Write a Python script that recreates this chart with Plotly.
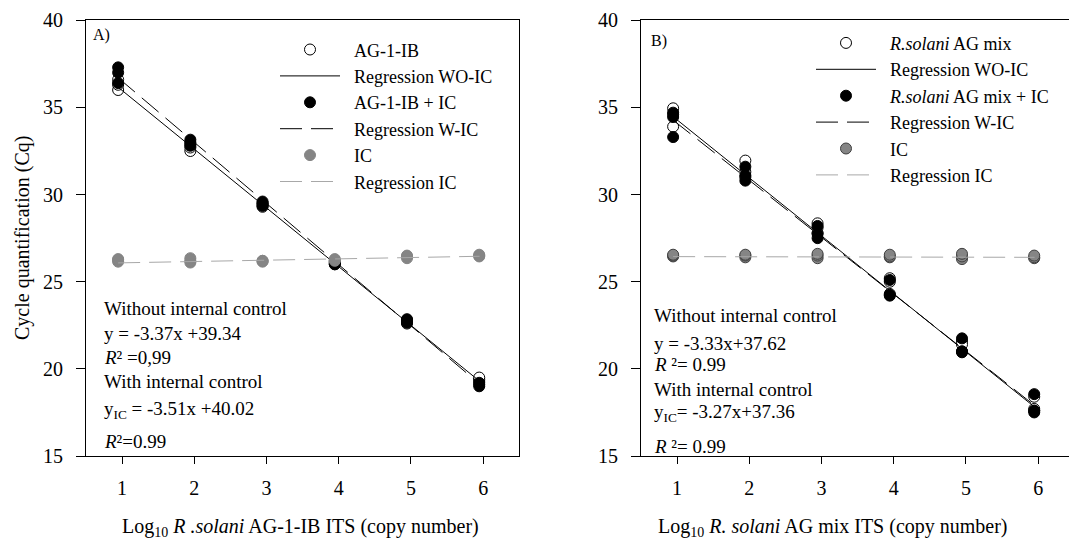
import numpy as np
import plotly.graph_objects as go

# ---------------- data ----------------
x_levels = [0.945, 1.945, 2.945, 3.945, 4.945, 5.945]
tick_vals = [1, 2, 3, 4, 5, 6]
y_ticks = [15, 20, 25, 30, 35, 40]

# Panel A (AG-1-IB)
A_open = [[36.0, 36.3, 36.6], [32.5, 32.7, 32.9], [29.3, 29.4, 29.5],
          [26.0, 26.1, 26.2], [22.6, 22.7, 22.8], [19.3, 19.4, 19.5]]
A_filled = [[36.4, 37.0, 37.3], [32.8, 33.0, 33.15], [29.35, 29.5, 29.6],
            [26.0, 26.05, 26.15], [22.65, 22.75, 22.85], [19.0, 19.1, 19.2]]
A_ic = [[26.15, 26.25, 26.3], [26.1, 26.2, 26.35], [26.15, 26.2, 26.2],
        [26.2, 26.25, 26.3], [26.35, 26.45, 26.5], [26.45, 26.5, 26.55]]
reg_x = [0.945, 5.95]
A_reg_wo = [36.16, 19.29]
A_reg_w = [36.70, 19.13]
A_reg_ic = [26.08, 26.46]

# Panel B (R. solani AG mix)
B_open = [[34.95, 34.6, 33.9], [31.95, 31.3, 31.0], [28.35, 28.1, 27.8],
          [25.2, 25.0, 24.3], [21.6, 21.4, 21.0], [18.4, 17.7, 17.6]]
B_filled = [[34.7, 34.45, 33.3], [31.6, 31.1, 30.8], [28.2, 27.75, 27.5],
            [25.1, 24.2, 24.25], [21.75, 20.95, 21.0], [18.55, 17.5, 17.6]]
B_ic = [[26.45, 26.5, 26.55], [26.4, 26.5, 26.55], [26.35, 26.5, 26.6],
        [26.4, 26.45, 26.55], [26.3, 26.45, 26.6], [26.35, 26.4, 26.5]]
B_reg_wo = [34.47, 17.81]
B_reg_w = [34.27, 17.90]
B_reg_ic = [26.44, 26.40]

A_names = ["AG-1-IB", "Regression WO-IC", "AG-1-IB + IC", "Regression W-IC", "IC", "Regression IC"]
B_names = ["<i>R.solani</i> AG mix", "Regression WO-IC", "<i>R.solani</i> AG mix + IC",
           "Regression W-IC", "IC", "Regression IC"]

# ---------------- figure ----------------
W, H = 1069, 540
FONT = "Liberation Serif, Times New Roman, serif"
PAD = "&nbsp;&nbsp;"


def flat(vals):
    xs = np.repeat(x_levels, [len(v) for v in vals])
    ys = np.concatenate([np.asarray(v, float) for v in vals])
    return xs, ys


fig = go.Figure()


def add_panel(xa, ya, leg, names, open_v, filled_v, ic_v, r_wo, r_w, r_ic, ic_line_col):
    nm = [PAD + n for n in names]
    x, y = flat(open_v)
    fig.add_trace(go.Scatter(x=x, y=y, mode="markers", name=nm[0], xaxis=xa, yaxis=ya, legend=leg,
                             marker=dict(symbol="circle", size=11, color="white",
                                         line=dict(color="black", width=1))))
    fig.add_trace(go.Scatter(x=reg_x, y=r_wo, mode="lines", name=nm[1], xaxis=xa, yaxis=ya, legend=leg,
                             line=dict(color="black", width=1)))
    x, y = flat(filled_v)
    fig.add_trace(go.Scatter(x=x, y=y, mode="markers", name=nm[2], xaxis=xa, yaxis=ya, legend=leg,
                             marker=dict(symbol="circle", size=11, color="black",
                                         line=dict(color="black", width=1))))
    fig.add_trace(go.Scatter(x=reg_x, y=r_w, mode="lines", name=nm[3], xaxis=xa, yaxis=ya, legend=leg,
                             line=dict(color="black", width=1, dash="22px,9px")))
    x, y = flat(ic_v)
    fig.add_trace(go.Scatter(x=x, y=y, mode="markers", name=nm[4], xaxis=xa, yaxis=ya, legend=leg,
                             marker=dict(symbol="circle", size=11, color="#858585",
                                         line=dict(color=ic_line_col, width=1))))
    fig.add_trace(go.Scatter(x=reg_x, y=r_ic, mode="lines", name=nm[5], xaxis=xa, yaxis=ya, legend=leg,
                             line=dict(color="#a8a8a8", width=1, dash="22px,9px")))


add_panel("x", "y", "legend", A_names, A_open, A_filled, A_ic, A_reg_wo, A_reg_w, A_reg_ic, "#858585")
add_panel("x2", "y2", "legend2", B_names, B_open, B_filled, B_ic, B_reg_wo, B_reg_w, B_reg_ic, "#404040")

px_unit = (519.3 - 86) / 6.0
yd = [1 - 456 / H, 1 - 20.3 / H]

common_x = dict(tickmode="array", tickvals=tick_vals, ticks="outside", ticklen=7, tickwidth=1,
                tickcolor="black", showline=True, linecolor="black", linewidth=1, mirror=True,
                showgrid=False, zeroline=False, ticklabelstandoff=7, automargin=False,
                tickfont=dict(family=FONT, size=20, color="black"))
common_y = dict(range=[15, 40], tickmode="array", tickvals=y_ticks, ticks="outside", ticklen=9,
                tickwidth=1, tickcolor="black", showline=True, linecolor="black", linewidth=1,
                showgrid=False, zeroline=False, ticklabelstandoff=9, automargin=False,
                tickfont=dict(family=FONT, size=20, color="black"))

fig.update_layout(
    xaxis=dict(domain=[86 / W, 519.3 / W], range=[0.5, 6.5], anchor="y", **common_x),
    yaxis=dict(domain=yd, anchor="x", mirror=True, **common_y),
    xaxis2=dict(domain=[641 / W, 1.0], range=[0.5, 0.5 + (W - 641) / px_unit], anchor="y2", **common_x),
    yaxis2=dict(domain=yd, anchor="x2", mirror=False, **common_y),
)

leg_common = dict(font=dict(family=FONT, size=18, color="black"), bgcolor="rgba(0,0,0,0)",
                  borderwidth=0, itemwidth=60, itemclick=False, itemdoubleclick=False,
                  xanchor="left", yanchor="top", traceorder="normal")
fig.update_layout(
    legend=dict(x=275 / W, y=1 - 31.3 / H, **leg_common),
    legend2=dict(x=811 / W, y=1 - 24.7 / H, **leg_common),
)

ann = []


def text(px, py, s, size=19, xanchor="left", yanchor="middle", angle=0):
    ann.append(dict(x=px / W, y=1 - py / H, xref="paper", yref="paper", text=s, showarrow=False,
                    xanchor=xanchor, yanchor=yanchor, textangle=angle,
                    font=dict(family=FONT, size=size, color="black")))


# panel labels
text(91, 35, "A)", size=16)
text(649, 40.7, "B)", size=16)

# equations panel A
lx = 101.5
text(lx, 308.3, "Without internal control")
text(lx, 333.5, "y = -3.37x +39.34")
text(lx, 357, "<i>R</i>² =0,99")
text(lx, 381.5, "With internal control")
text(lx, 410, "y<sub>IC</sub> = -3.51x +40.02")
text(lx, 441, "<i>R</i>²=0.99")

# equations panel B
rx = 652
text(rx, 315, "Without internal control")
text(rx, 343, "y = -3.33x+37.62")
text(rx, 364.5, "<i>R</i> ²= 0.99")
text(rx, 389.5, "With internal control")
text(rx, 413, "y<sub>IC</sub>= -3.27x+37.36")
text(rx, 447, "<i>R</i> ²= 0.99")

# axis titles
text(22, 238, "Cycle quantification (Cq)", size=20, xanchor="center", angle=-90)
text(300, 527, "Log<sub>10</sub> <i>R .solani</i> AG-1-IB ITS (copy number)", size=20, xanchor="center")
text(833, 527, "Log<sub>10</sub> <i>R. solani</i> AG mix ITS (copy number)", size=20, xanchor="center")

fig.update_layout(annotations=ann, width=W, height=H,
                  margin=dict(l=0, r=0, t=0, b=0, pad=0, autoexpand=False),
                  paper_bgcolor="white", plot_bgcolor="white", showlegend=True)

fig.write_html("out.html", config={"displayModeBar": False},
               post_script="document.body.style.margin='0';document.body.style.padding='0';"
                           "document.body.style.overflow='hidden';")
